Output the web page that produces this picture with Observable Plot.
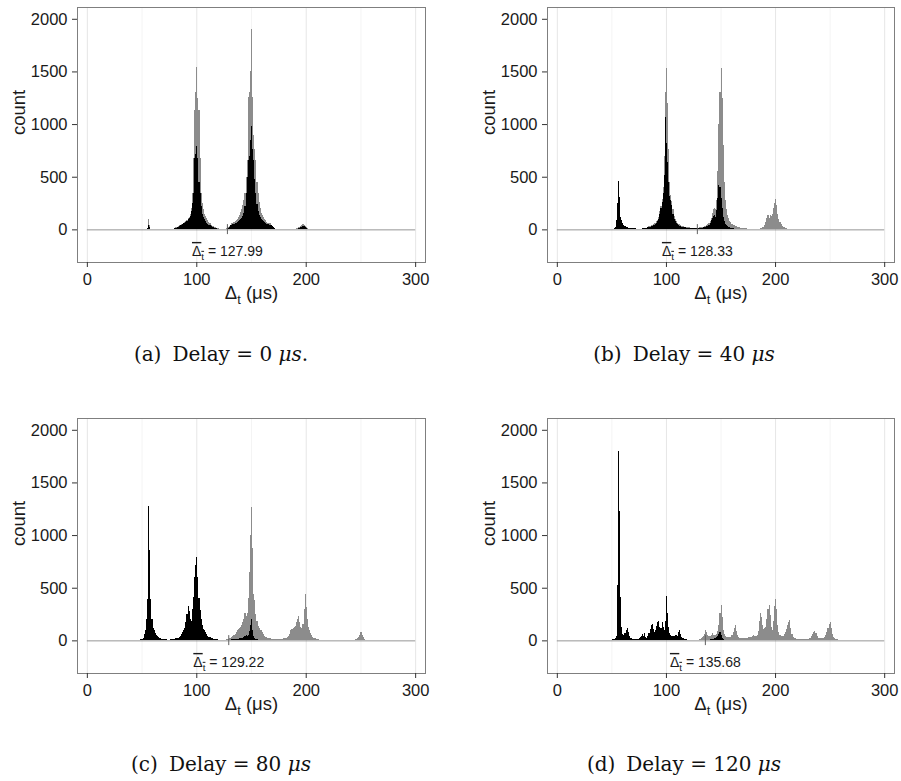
<!DOCTYPE html>
<html><head><meta charset="utf-8">
<script src="https://cdn.jsdelivr.net/npm/d3@7"></script>
<script src="https://cdn.jsdelivr.net/npm/@observablehq/plot@0.6"></script>
<style>
body{margin:0;background:#fff}
#fig{position:relative;width:901px;height:781px;background:#fff;overflow:hidden}
.panel{position:absolute}
.cap{position:absolute;width:320px;text-align:center;font-family:"DejaVu Serif",serif;font-size:20px;line-height:20px;color:#111;white-space:nowrap}
</style></head>
<body><div id="fig"></div>
<script>
// ---- data: histogram counts, 1 µs bins; each segment = [first bin start, counts...] ----
const xMajor = [0, 100, 200, 300];
const xMinor = [50, 150, 250];
const yTicks = [0, 500, 1000, 1500, 2000];
const means = [127.99, 128.33, 129.22, 135.68];
const panelLetters = ["(a)", "(b)", "(c)", "(d)"];
const delays = [0, 40, 80, 120];
const captionEnds = [".", "", "", ""];

const aGray = [
  [54, [4, 12, 95, 40, 8, 3]],
  [79, [8,12,18,24,34,40,45,50,55,62,70,80,90,105,120,150,200,342,677,1134,1300,1546,
        1250,1134,677,342,250,190,150,125,110,90,70,57,45,35,28,22,18,14,11,9,7,6,5,4,3]],
  [126, [8,12,18,25,35,45,57,63,70,78,86,95,120,140,165,190,230,280,342,500,660,1261,1300,1500,1904,
         1261,900,760,660,450,342,260,200,160,135,120,100,85,72,65,60,57,45,30,20,12,8,5,3,3,2,2,2]],
  [185, [2,3,4,5,6,8,10,13,18,26,36,46,50,44,32,20,12,7,4,3,2]]
];
const aBlack = [
  [54, [3, 10, 40, 25, 5]],
  [79, [6,10,15,20,26,33,41,45,50,56,63,72,82,95,110,125,170,250,350,680,720,792,
        680,450,345,220,150,120,95,75,62,52,45,40,32,25,20,16,12,10,8,6,5,4,3,2]],
  [128, [10,15,22,41,44,48,52,57,62,68,76,85,95,108,125,160,220,342,500,660,700,850,982,
         760,660,480,342,240,170,140,120,100,85,75,66,58,52,47,44,42,41,28,18,10,5,3]],
  [188, [2,3,4,5,7,10,14,20,27,32,28,18,9,4,2]]
];

const bGray = [
  [84, [30,34,38,43,49,56,65,77,92,115,170,225,290,400,700,1300,1530,1200,760,450,330,270,190,130,100,
        80,65,55,47,41,36,32,28,25,23,21,19,18,17,16,15,15,15,15,16,17,18,19,21,23,25,28]],
  [136, [35,42,50,62,80,110,160,195,202,190,280,550,1000,1300,1535,1250,800,450,280,190,140,105,82,66,55,46,39,33,28,24,21,18,16,14,12,11,10,9,8,7]],
  [176, [7,6,6,5,5,5,6,6,7,8,10,13,18,25,40,70,110,136,110,136,130,150,200,250,288,230,150,100,70,50,36,26,19,14,10,8,6,5,4,3,2]]
];
const bBlack = [
  [50, [3,5,10,20,88,250,459,310,120,88,60,40,30,24,20,17,15,13,12,11,10,9,9,8,8,8,8,8,9,10,11,13,15,18,22,26]],
  [86, [30,35,40,46,54,64,78,100,150,200,260,350,520,1065,817,640,450,320,280,230,150,100,78,62,50,
        42,36,31,27,24,21,19,17,15,14,13,12,11,10,10,10,10,11,12,13,14,15,17,19,21]],
  [136, [22,28,35,45,60,85,110,130,135,120,180,300,421,400,300,200,120,80,55,40,30,24,19,15,12,10,8,6,5,4,3,2]],
  [193, [3]], [198, [4]], [204, [3]]
];

const cGray = [
  [125, [6,8,10,13,16,20,25,32,40,50,62,78,95,105,115,130,150,170,200,260,230,260,400,650,1000,1264]],
  [151, [880,440,381,250,180,140,115,100,95,80,60,45,35,28,23,20,18,16,15,14,13,13,13,13,14,15,16,17,19,21,
         24,27,31,40,60,95,105,115,125,140,170,200,229,170,130,115,160,300,438,320,200,130,95,70,50,36,26,19,14,11,
         9,7,6,5,4,3,3,2,2,2]],
  [226, [3]], [231, [3]],
  [236, [3,3,4,4,5,5,6,7,8,10,13,20,30,50,79,50,28,14,8,5,3]]
];
const cBlack = [
  [45, [3,4,6,8,11,15,22,60,95,200,390,1276,857,390,200,120,95,70,50,40,32,26,21,17,14,12,10,9,8,8,8,9,10,11,13,
        15,18,22,27,33,42,60,75,95,120,170,250,324,280,200,180,300,410,600,720,794]],
  [101, [600,400,290,200,150,110,95,80,60,45,35,28,22,18,15,13,11,10,9,8,7,7,6,6,6,6,6,6,7,7,8,9,10,11,12,
         13,14,16,18,20,23,27,32,40,48,45,55,85,150,206,100,45,25,14,9,6,4,3]],
  [165, [4]], [172, [5]], [180, [4]], [190, [5]], [198, [4]], [207, [5]], [215, [4]], [225, [5]], [232, [4]], [240, [5]], [248, [4]], [256, [3]]
];

const dGray = [
  [125, [3,4,5,6,8,10,14,20,28,40,60,95,75,50,42,45,55,66,55,50,55,65,90,150,260,333,220,100,60,40,32,28,28,30,35,50]],
  [161, [80,120,149,90,50,32,25,22,20,18,18,20,22,25,28,30,32,35,40,48,45,40,50,90,180,260,220,150,110,120,127,200,300,333,240,130,95,180,330,397]],
  [201, [300,150,80,50,40,38,45,60,80,110,150,170,190,120,60,35,25,20,16,14,13,12,12,13,14,15,15,14,14,15,18,25,40,60,80,89,70,40,25,20]],
  [241, [18,18,20,25,35,50,80,120,160,174,120,60,30,20,15,12,10,8,7,6,5,5,4,4,3,3,3,2]]
];
const dBlack = [
  [38, [2,0,3,2,3,2,3,3,4,4,5,6,8,10,14,22,45,524,1800,1228,412,127,60]],
  [61, [50,70,100,120,80,40,25,18,15,14,13,12,12,15,20,30,45,60,40,66,35,25,40,70,110,150,159,110,80,100,140,175,184,130,120,175,130,100,180,422,
        260,130,70,50,45,40,45,55,50,45,80,95,60,35,25,18,13,10,8,6]],
  [121, [5,4,4,3,3,3,3,3,3,3,3,3,3,3,4,4,5,6,8,10,12,14,16,18,22,28,40,60,79,55,25,10,5,3]],
  [160, [4]], [168, [5]], [175, [4]], [183, [5]], [190, [4]], [197, [5]], [205, [4]], [212, [3]],
  [222, [4]], [232, [5]], [243, [3]], [258, [4]], [272, [3]], [287, [5]], [299, [4]]
];

// ---- build ----
function expand(segments) {
  const rows = [];
  for (const [start, counts] of segments) {
    counts.forEach((c, i) => { if (c > 0) rows.push({x1: start + i, x2: start + i + 1, count: c}); });
  }
  return rows;
}

const panels = [
  {left: 0,   top: 0,   width: 450, marginLeft: 77, marginRight: 25, gray: aGray, black: aBlack},
  {left: 450, top: 0,   width: 451, marginLeft: 97, marginRight: 7,  gray: bGray, black: bBlack},
  {left: 0,   top: 411, width: 450, marginLeft: 77, marginRight: 25, gray: cGray, black: cBlack},
  {left: 450, top: 411, width: 451, marginLeft: 97, marginRight: 7,  gray: dGray, black: dBlack}
];
const capCenters = [[221, 344], [684, 344], [221, 754], [684, 754]];

const fig = document.getElementById("fig");
const LABEL_FS = 18.5, NOTE_FS = 14;
const plain = d => String(d);

panels.forEach((p, i) => {
  const mean = means[i];
  const svg = Plot.plot({
    width: p.width, height: 320,
    marginLeft: p.marginLeft, marginRight: p.marginRight, marginTop: 7, marginBottom: 58,
    style: {fontFamily: "'Liberation Sans', Arial, sans-serif", fontSize: "16.5px", color: "#1a1a1a", background: "transparent"},
    x: {domain: [-9, 309]},
    y: {domain: [-310, 2112]},
    marks: [
      Plot.ruleX(xMinor, {stroke: "#f4f4f4", strokeWidth: 1}),
      Plot.ruleX(xMajor, {stroke: "#e6e6e6", strokeWidth: 1}),
      Plot.rectY(expand(p.gray), {x1: "x1", x2: "x2", y: "count", fill: "#8c8c8c", shapeRendering: "crispEdges"}),
      Plot.rectY(expand(p.black), {x1: "x1", x2: "x2", y: "count", fill: "#000", shapeRendering: "crispEdges"}),
      Plot.ruleY([0], {x1: 0, x2: 300, stroke: "#7a7a7a", strokeWidth: 0.8}),
      Plot.ruleX([mean], {y1: -45, y2: 50, stroke: "#606060", strokeWidth: 1}),
      Plot.text([mean], {x: d => d, y: -205, text: d => "Δt = " + d.toFixed(2), fontSize: NOTE_FS, fill: "#1a1a1a"}),
      Plot.frame({stroke: "#7f7f7f", strokeWidth: 1}),
      Plot.axisX({ticks: xMajor, tickFormat: plain, tickSize: 5, tickPadding: 6, label: null, stroke: "#333"}),
      Plot.axisY({ticks: yTicks, tickFormat: plain, tickSize: 5, tickPadding: 5, label: null, stroke: "#333"}),
      Plot.text(["count"], {frameAnchor: "left", dx: -58, rotate: -90, fontSize: LABEL_FS, fill: "#1a1a1a"}),
      Plot.text(["Δt (μs)"], {frameAnchor: "bottom", dy: 36, fontSize: LABEL_FS, fill: "#1a1a1a"})
    ]
  });
  // subscript / overline formatting (text stays real text)
  d3.select(svg).selectAll("text").each(function() {
    const t = this.textContent;
    const el = d3.select(this);
    if (t === "Δt (μs)") {
      const fs = LABEL_FS;
      el.text(null);
      el.append("tspan").text("Δ");
      el.append("tspan").attr("font-size", fs * 0.7).attr("dy", fs * 0.28).text("t");
      el.append("tspan").attr("dy", -fs * 0.28).text(" (μs)");
    } else if (t.startsWith("Δt = ")) {
      const fs = NOTE_FS;
      const rest = t.slice(2);
      el.text(null);
      const over = el.append("tspan").style("text-decoration", "overline");
      over.append("tspan").text("Δ");
      over.append("tspan").attr("font-size", fs * 0.7).attr("dy", fs * 0.28).text("t");
      el.append("tspan").attr("dy", -fs * 0.28).text(rest);
    }
  });
  const wrap = document.createElement("div");
  wrap.className = "panel";
  wrap.style.left = p.left + "px";
  wrap.style.top = p.top + "px";
  wrap.appendChild(svg);
  fig.appendChild(wrap);

  const cap = document.createElement("div");
  cap.className = "cap";
  cap.style.left = (capCenters[i][0] - 160) + "px";
  cap.style.top = capCenters[i][1] + "px";
  cap.innerHTML = `<span>${panelLetters[i]}</span><span style="margin-left:0.55em">Delay = ${delays[i]} <i>μs</i>${captionEnds[i]}</span>`;
  fig.appendChild(cap);
});
</script>
</body></html>
